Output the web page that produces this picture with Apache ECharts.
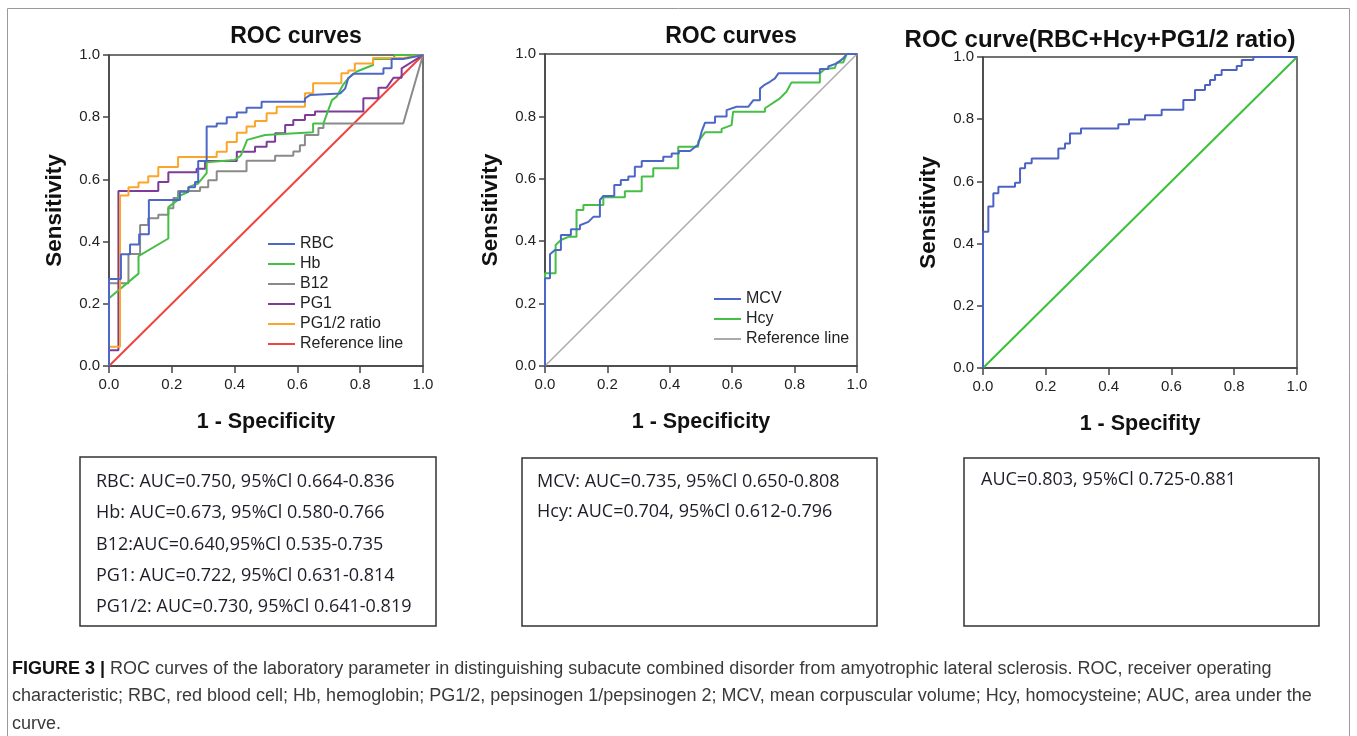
<!DOCTYPE html>
<html>
<head>
<meta charset="utf-8">
<script src="https://cdn.jsdelivr.net/npm/echarts/dist/echarts.min.js"></script>
<style>
  html, body { margin: 0; padding: 0; background: #fff; }
  #chart { width: 1357px; height: 736px; }
</style>
</head>
<body>
<div id="chart"></div>
<script>
// panel 1: ROC curves for the single parameters, [1 - specificity, sensitivity]
const rbcPts = [[0,0],[0,0.28],[0.038,0.28],[0.038,0.359],[0.067,0.359],[0.067,0.391],[0.096,0.391],[0.096,0.424],
  [0.127,0.424],[0.127,0.534],[0.226,0.534],[0.226,0.56],[0.253,0.56],[0.253,0.575],[0.274,0.575],[0.274,0.592],
  [0.284,0.592],[0.284,0.659],[0.311,0.659],[0.311,0.77],[0.343,0.77],[0.343,0.78],[0.375,0.78],[0.375,0.80],
  [0.407,0.80],[0.407,0.815],[0.438,0.815],[0.438,0.83],[0.486,0.83],[0.486,0.85],[0.624,0.85],[0.624,0.86],
  [0.64,0.871],[0.736,0.876],[0.752,0.892],[0.762,0.925],[0.778,0.94],[0.874,0.94],[0.874,0.957],[0.90,0.957],
  [0.90,0.987],[0.937,0.987],[1,1]];
const hbPts = [[0,0],[0,0.218],[0.094,0.297],[0.094,0.353],[0.189,0.41],[0.189,0.511],[0.22,0.534],[0.22,0.545],
  [0.253,0.56],[0.253,0.575],[0.284,0.587],[0.311,0.62],[0.311,0.655],[0.40,0.662],[0.42,0.677],[0.44,0.727],
  [0.497,0.743],[0.65,0.752],[0.65,0.78],[0.683,0.78],[0.71,0.855],[0.725,0.866],[0.746,0.905],[0.762,0.925],
  [0.789,0.947],[0.841,0.968],[0.841,0.987],[0.906,0.987],[0.91,1],[1,1]];
const b12Pts = [[0,0],[0,0.266],[0.062,0.266],[0.062,0.36],[0.099,0.36],[0.099,0.453],[0.125,0.453],[0.125,0.475],
  [0.157,0.475],[0.157,0.486],[0.189,0.486],[0.189,0.507],[0.205,0.507],[0.205,0.54],[0.22,0.54],[0.22,0.563],
  [0.29,0.563],[0.29,0.575],[0.316,0.575],[0.316,0.597],[0.343,0.597],[0.343,0.626],[0.438,0.626],[0.438,0.66],
  [0.529,0.66],[0.529,0.676],[0.587,0.676],[0.587,0.69],[0.608,0.69],[0.608,0.71],[0.624,0.71],[0.624,0.743],
  [0.667,0.743],[0.667,0.765],[0.683,0.765],[0.683,0.78],[0.937,0.78],[1,1]];
const pg1Pts = [[0,0],[0,0.051],[0.03,0.051],[0.03,0.563],[0.157,0.563],[0.157,0.592],[0.189,0.592],[0.189,0.623],
  [0.279,0.623],[0.279,0.634],[0.306,0.634],[0.306,0.659],[0.407,0.659],[0.407,0.689],[0.465,0.689],[0.465,0.705],
  [0.502,0.705],[0.502,0.721],[0.529,0.721],[0.529,0.748],[0.561,0.748],[0.561,0.775],[0.587,0.775],[0.587,0.791],
  [0.624,0.791],[0.624,0.807],[0.656,0.807],[0.656,0.818],[0.81,0.818],[0.81,0.861],[0.858,0.861],[0.858,0.895],
  [0.884,0.895],[0.906,0.927],[0.932,0.927],[0.932,0.957],[1,1]];
const pg12Pts = [[0,0],[0,0.062],[0.035,0.062],[0.035,0.548],[0.062,0.548],[0.062,0.575],[0.094,0.575],[0.094,0.59],
  [0.125,0.59],[0.125,0.61],[0.157,0.61],[0.157,0.64],[0.22,0.64],[0.22,0.672],[0.343,0.672],[0.343,0.689],
  [0.375,0.689],[0.375,0.72],[0.407,0.72],[0.407,0.75],[0.438,0.75],[0.438,0.77],[0.465,0.77],[0.465,0.788],
  [0.502,0.788],[0.502,0.8125],[0.534,0.8125],[0.534,0.834],[0.624,0.834],[0.624,0.877],[0.65,0.877],[0.65,0.909],
  [0.74,0.909],[0.74,0.941],[0.762,0.941],[0.762,0.95],[0.783,0.95],[0.783,0.973],[0.841,0.973],[0.841,0.99],
  [0.937,0.99],[1,1]];
// panel 2
const mcvPts = [[0,0],[0,0.281],[0.016,0.281],[0.016,0.358],[0.032,0.372],[0.051,0.372],[0.051,0.42],[0.083,0.42],
  [0.083,0.438],[0.112,0.438],[0.112,0.451],[0.139,0.462],[0.155,0.478],[0.176,0.478],[0.176,0.532],[0.187,0.545],
  [0.222,0.545],[0.222,0.58],[0.243,0.58],[0.243,0.596],[0.267,0.596],[0.267,0.607],[0.288,0.607],[0.288,0.639],
  [0.31,0.639],[0.31,0.657],[0.379,0.657],[0.379,0.671],[0.406,0.671],[0.406,0.681],[0.429,0.681],[0.429,0.689],
  [0.465,0.689],[0.491,0.71],[0.502,0.751],[0.513,0.78],[0.545,0.78],[0.545,0.8],[0.582,0.8],[0.582,0.82],
  [0.614,0.831],[0.652,0.831],[0.668,0.852],[0.689,0.852],[0.689,0.889],[0.705,0.902],[0.721,0.911],[0.737,0.922],
  [0.748,0.938],[0.881,0.938],[0.881,0.952],[0.908,0.952],[0.908,0.96],[0.935,0.97],[0.956,0.986],[0.967,1],[1,1]];
const hcyPts = [[0,0],[0,0.297],[0.034,0.297],[0.034,0.388],[0.051,0.404],[0.075,0.414],[0.101,0.414],[0.101,0.5],
  [0.123,0.5],[0.123,0.516],[0.187,0.516],[0.187,0.541],[0.256,0.541],[0.256,0.56],[0.31,0.56],[0.31,0.607],
  [0.347,0.607],[0.347,0.634],[0.427,0.634],[0.427,0.703],[0.491,0.703],[0.491,0.719],[0.513,0.749],[0.566,0.749],
  [0.566,0.76],[0.598,0.772],[0.603,0.815],[0.705,0.815],[0.705,0.826],[0.753,0.858],[0.774,0.879],[0.79,0.909],
  [0.881,0.909],[0.881,0.938],[0.897,0.952],[0.929,0.955],[0.935,0.973],[0.956,0.973],[0.967,1],[1,1]];
// panel 3: combined model
const comboPts = [[0,0],[0,0.438],[0.017,0.438],[0.017,0.519],[0.033,0.519],[0.033,0.562],[0.049,0.562],[0.049,0.583],
  [0.102,0.583],[0.102,0.596],[0.118,0.596],[0.118,0.642],[0.134,0.642],[0.134,0.658],[0.155,0.658],[0.155,0.674],
  [0.24,0.674],[0.24,0.706],[0.261,0.706],[0.261,0.722],[0.277,0.722],[0.277,0.754],[0.312,0.754],[0.312,0.77],
  [0.431,0.77],[0.431,0.784],[0.465,0.784],[0.465,0.799],[0.516,0.799],[0.516,0.813],[0.569,0.813],[0.569,0.83],
  [0.638,0.83],[0.638,0.862],[0.675,0.862],[0.675,0.894],[0.707,0.894],[0.707,0.91],[0.723,0.91],[0.723,0.926],
  [0.739,0.926],[0.739,0.942],[0.76,0.942],[0.76,0.958],[0.808,0.958],[0.808,0.971],[0.824,0.971],[0.824,0.99],
  [0.861,0.99],[0.861,1],[1,1]];
const diagPts = [[0,0],[1,1]];

const panelTitles = ['ROC curves', 'ROC curves', 'ROC curve(RBC+Hcy+PG1/2 ratio)'];
const xNames = ['1 - Specificity', '1 - Specificity', '1 - Specifity'];
const aucText1 = ['RBC: AUC=0.750, 95%Cl 0.664-0.836', 'Hb: AUC=0.673, 95%Cl 0.580-0.766',
  'B12:AUC=0.640,95%Cl 0.535-0.735', 'PG1: AUC=0.722, 95%Cl 0.631-0.814', 'PG1/2: AUC=0.730, 95%Cl 0.641-0.819'];
const aucText2 = ['MCV: AUC=0.735, 95%Cl 0.650-0.808', 'Hcy: AUC=0.704, 95%Cl 0.612-0.796'];
const aucText3 = ['AUC=0.803, 95%Cl 0.725-0.881'];
const captionLines = [
  '{b|FIGURE 3 |} ROC curves of the laboratory parameter in distinguishing subacute combined disorder from amyotrophic lateral sclerosis. ROC, receiver operating',
  'characteristic; RBC, red blood cell; Hb, hemoglobin; PG1/2, pepsinogen 1/pepsinogen 2; MCV, mean corpuscular volume; Hcy, homocysteine; AUC, area under the',
  'curve.'
];

const FONT = '"Liberation Sans", Arial, sans-serif';
const grids = [
  { left: 109, top: 55, width: 314, height: 311 },
  { left: 545, top: 54, width: 312, height: 312 },
  { left: 983, top: 57, width: 314, height: 311 }
];

const axisLine = { show: true, onZero: false, lineStyle: { color: '#444', width: 1.5 } };
const xAxes = grids.map((g, i) => ({
  type: 'value', gridIndex: i, min: 0, max: 1, interval: 0.2,
  name: xNames[i], nameLocation: 'middle', nameGap: 45,
  nameTextStyle: { fontFamily: FONT, fontWeight: 'bold', fontSize: 21.5, color: '#111' },
  axisLine, axisTick: { show: true, length: 7, lineStyle: { color: '#444', width: 1.5 } },
  axisLabel: { fontFamily: FONT, fontSize: 15, color: '#222', margin: 11, formatter: v => v.toFixed(1) },
  splitLine: { show: false }
}));
const yAxes = grids.map((g, i) => ({
  type: 'value', gridIndex: i, min: 0, max: 1, interval: 0.2,
  name: 'Sensitivity', nameLocation: 'middle', nameGap: 43,
  nameTextStyle: { fontFamily: FONT, fontWeight: 'bold', fontSize: 22.5, color: '#111' },
  axisLine, axisTick: { show: true, length: 6, lineStyle: { color: '#444', width: 1.5 } },
  axisLabel: { fontFamily: FONT, fontSize: 15, color: '#222', margin: 9, formatter: v => v.toFixed(1) },
  splitLine: { show: false }
}));

function curve(name, data, color, gi, width) {
  return {
    name, type: 'line', data, xAxisIndex: gi, yAxisIndex: gi,
    symbol: 'none', smooth: false, color,
    lineStyle: { color, width: width || 2 }
  };
}

const series = [
  curve('Reference line', diagPts, '#f0443f', 0),
  curve('B12', b12Pts, '#8a8a8a', 0),
  curve('PG1', pg1Pts, '#7d3c98', 0),
  curve('Hb', hbPts, '#46bf46', 0),
  curve('PG1/2 ratio', pg12Pts, '#fba52a', 0),
  curve('RBC', rbcPts, '#4d67c6', 0),
  curve('ref2', diagPts, '#aaaaaa', 1, 1.5),
  curve('Hcy', hcyPts, '#46bf46', 1),
  curve('MCV', mcvPts, '#4d67c6', 1),
  curve('ref3', diagPts, '#3cc03c', 2),
  curve('combo', comboPts, '#4d63c4', 2)
];

const legendBase = {
  orient: 'vertical', icon: 'rect', itemWidth: 27, itemHeight: 2, itemGap: 4,
  textStyle: { fontFamily: FONT, fontSize: 16, color: '#222' },
  formatter: n => (n === 'ref2' ? 'Reference line' : n),
  selectedMode: false
};

const TITLEFONT = 'bold 23px ' + FONT;
const graphic = [
  { type: 'rect', shape: { x: 7.5, y: 8.5, width: 1342, height: 800 }, style: { fill: 'none', stroke: '#9a9a9a', lineWidth: 1 } },
  { type: 'text', style: { text: panelTitles[0], x: 296, y: 37, textAlign: 'center', textVerticalAlign: 'middle', font: TITLEFONT, fill: '#111' } },
  { type: 'text', style: { text: panelTitles[1], x: 731, y: 37, textAlign: 'center', textVerticalAlign: 'middle', font: TITLEFONT, fill: '#111' } },
  { type: 'text', style: { text: panelTitles[2], x: 1100, y: 40, textAlign: 'center', textVerticalAlign: 'middle', font: 'bold 24px ' + FONT, fill: '#111' } },
  { type: 'rect', shape: { x: 80, y: 457, width: 356, height: 169 }, style: { fill: 'none', stroke: '#333', lineWidth: 1.5 } },
  { type: 'rect', shape: { x: 522, y: 458, width: 355, height: 168 }, style: { fill: 'none', stroke: '#333', lineWidth: 1.5 } },
  { type: 'rect', shape: { x: 964, y: 458, width: 355, height: 168 }, style: { fill: 'none', stroke: '#333', lineWidth: 1.5 } }
];
const BOXFONT = '18px "Open Sans", sans-serif';
aucText1.forEach((t, i) => graphic.push({ type: 'text', style: { text: t, x: 96, y: 482 + i * 31.3, textVerticalAlign: 'middle', font: BOXFONT, fill: '#1e1e28' } }));
aucText2.forEach((t, i) => graphic.push({ type: 'text', style: { text: t, x: 537, y: 482 + i * 30, textVerticalAlign: 'middle', font: BOXFONT, fill: '#1e1e28' } }));
aucText3.forEach((t, i) => graphic.push({ type: 'text', style: { text: t, x: 981, y: 480 + i * 30, textVerticalAlign: 'middle', font: BOXFONT, fill: '#1e1e28' } }));
captionLines.forEach((t, i) => graphic.push({
  type: 'text',
  style: {
    text: t, x: 12, y: 669 + i * 27.5, textVerticalAlign: 'middle', font: '18px ' + FONT, fill: '#3a3a3a',
    rich: { b: { fontWeight: 'bold', fontSize: 18, fontFamily: FONT, fill: '#111' } }
  }
}));

const chart = echarts.init(document.getElementById('chart'));
chart.setOption({
  animation: false,
  backgroundColor: '#fff',
  grid: grids.map(g => Object.assign({ show: true, borderColor: '#444', borderWidth: 1.5, containLabel: false }, g)),
  xAxis: xAxes,
  yAxis: yAxes,
  legend: [
    Object.assign({ data: ['RBC', 'Hb', 'B12', 'PG1', 'PG1/2 ratio', 'Reference line'], left: 263, top: 231 }, legendBase),
    Object.assign({ data: ['MCV', 'Hcy', 'ref2'], left: 709, top: 286 }, legendBase)
  ],
  series,
  graphic
});
</script>
</body>
</html>
